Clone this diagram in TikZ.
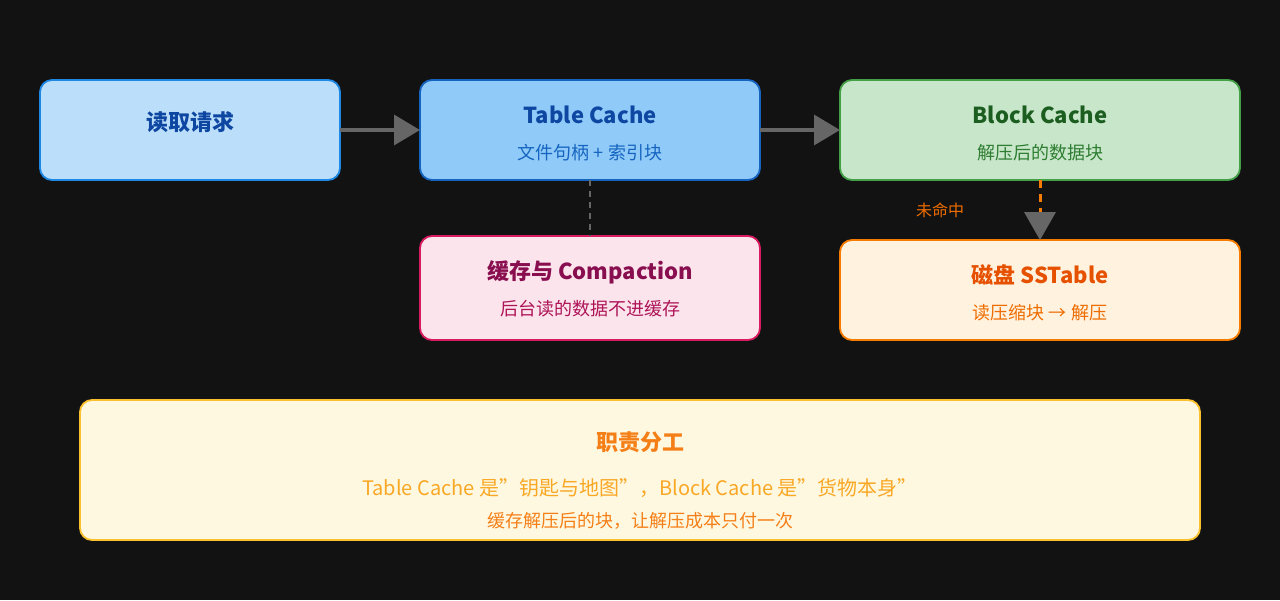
\documentclass[tikz,border=0pt]{standalone}
\usepackage{fontspec}
\setmainfont{Noto Sans CJK SC}
\usetikzlibrary{arrows.meta}
\definecolor{bgc}{HTML}{121212}
\definecolor{lineg}{HTML}{666666}
\definecolor{reqdraw}{HTML}{1E88E5}
\definecolor{reqfill}{HTML}{BBDEFB}
\definecolor{tcdraw}{HTML}{1565C0}
\definecolor{tcfill}{HTML}{90CAF9}
\definecolor{bcdraw}{HTML}{43A047}
\definecolor{bcfill}{HTML}{C8E6C9}
\definecolor{cpdraw}{HTML}{D81B60}
\definecolor{cpfill}{HTML}{FCE4EC}
\definecolor{dkdraw}{HTML}{F57C00}
\definecolor{dkfill}{HTML}{FFF3E0}
\definecolor{rldraw}{HTML}{FBC02D}
\definecolor{rlfill}{HTML}{FFF8E1}
\definecolor{blued}{HTML}{0D47A1}
\definecolor{bluem}{HTML}{1565C0}
\definecolor{greend}{HTML}{1B5E20}
\definecolor{greenm}{HTML}{2E7D32}
\definecolor{pinkd}{HTML}{880E4F}
\definecolor{pinkm}{HTML}{AD1457}
\definecolor{orad}{HTML}{E65100}
\definecolor{oram}{HTML}{EF6C00}
\definecolor{yeld}{HTML}{F57F17}
\definecolor{yelm}{HTML}{F9A825}
\tikzset{
  card/.style={draw, line width=1.8pt, rounded corners=12pt},
  ttl/.style={font=\fontsize{22}{26}\selectfont\bfseries},
  sub/.style={font=\fontsize{18}{22}\selectfont},
  flow/.style={draw=lineg, line width=3.5pt, -{Triangle[length=26pt,width=30pt]}}
}
\begin{document}
\begin{tikzpicture}[x=1pt,y=-1pt]
  \fill[bgc] (0,0) rectangle (1280,600);
  \useasboundingbox (0,0) rectangle (1280,600);

  % boxes
  \draw[card, draw=reqdraw, fill=reqfill] (40,80) rectangle (340,180);
  \draw[card, draw=tcdraw, fill=tcfill] (420,80) rectangle (760,180);
  \draw[card, draw=bcdraw, fill=bcfill] (840,80) rectangle (1240,180);
  \draw[card, draw=cpdraw, fill=cpfill] (420,236) rectangle (760,340);
  \draw[card, draw=dkdraw, fill=dkfill] (840,240) rectangle (1240,340);
  \draw[card, draw=rldraw, fill=rlfill] (80,400) rectangle (1200,540);

  % anchors
  \coordinate (req) at (340,130);
  \coordinate (tcl) at (420,130);
  \coordinate (tcr) at (760,130);
  \coordinate (bcl) at (840,130);
  \coordinate (tcb) at (590,180);
  \coordinate (cpt) at (590,236);
  \coordinate (bcb) at (1040,180);
  \coordinate (dkt) at (1040,240);

  % texts
  \node[ttl, text=blued] (n1) at (190,122) {读取请求};
  \node[ttl, text=blued] (n2) at (590,115) {Table Cache};
  \node[sub, text=bluem] (n2s) at (590,153) {文件句柄 + 索引块};
  \node[ttl, text=greend] (n3) at (1040,115) {Block Cache};
  \node[sub, text=greenm] (n3s) at (1040,153) {解压后的数据块};
  \node[ttl, text=pinkd] (n4) at (590,272) {缓存与 Compaction};
  \node[sub, text=pinkm] (n4s) at (590,309) {后台读的数据不进缓存};
  \node[ttl, text=orad] (n5) at (1040,275) {磁盘 SSTable};
  \node[sub, text=oram] (n5s) at (1040,313) {读压缩块 → 解压};
  \node[font=\fontsize{16}{20}\selectfont, text=oram] (miss) at (940,210) {未命中};
  \node[ttl, text=yeld] (n6) at (640,442) {职责分工};
  \node[font=\fontsize{20}{24}\selectfont, text=yelm] (n6a) at (640,488) {Table Cache 是"钥匙与地图"，Block Cache 是"货物本身"};
  \node[sub, text=yeld] (n6b) at (640,521) {缓存解压后的块，让解压成本只付一次};

  % connectors
  \draw[flow] (req) -- (tcl);
  \draw[flow] (tcr) -- (bcl);
  \draw[lineg, line width=2.5pt, dash pattern=on 6pt off 5pt] (tcb) -- (cpt);
  \draw[dkdraw, line width=3pt, dash pattern=on 8pt off 6pt] (bcb) -- (1040,212);
  \fill[lineg] (1024,212) -- (1056,212) -- (dkt) -- cycle;
\end{tikzpicture}
\end{document}
